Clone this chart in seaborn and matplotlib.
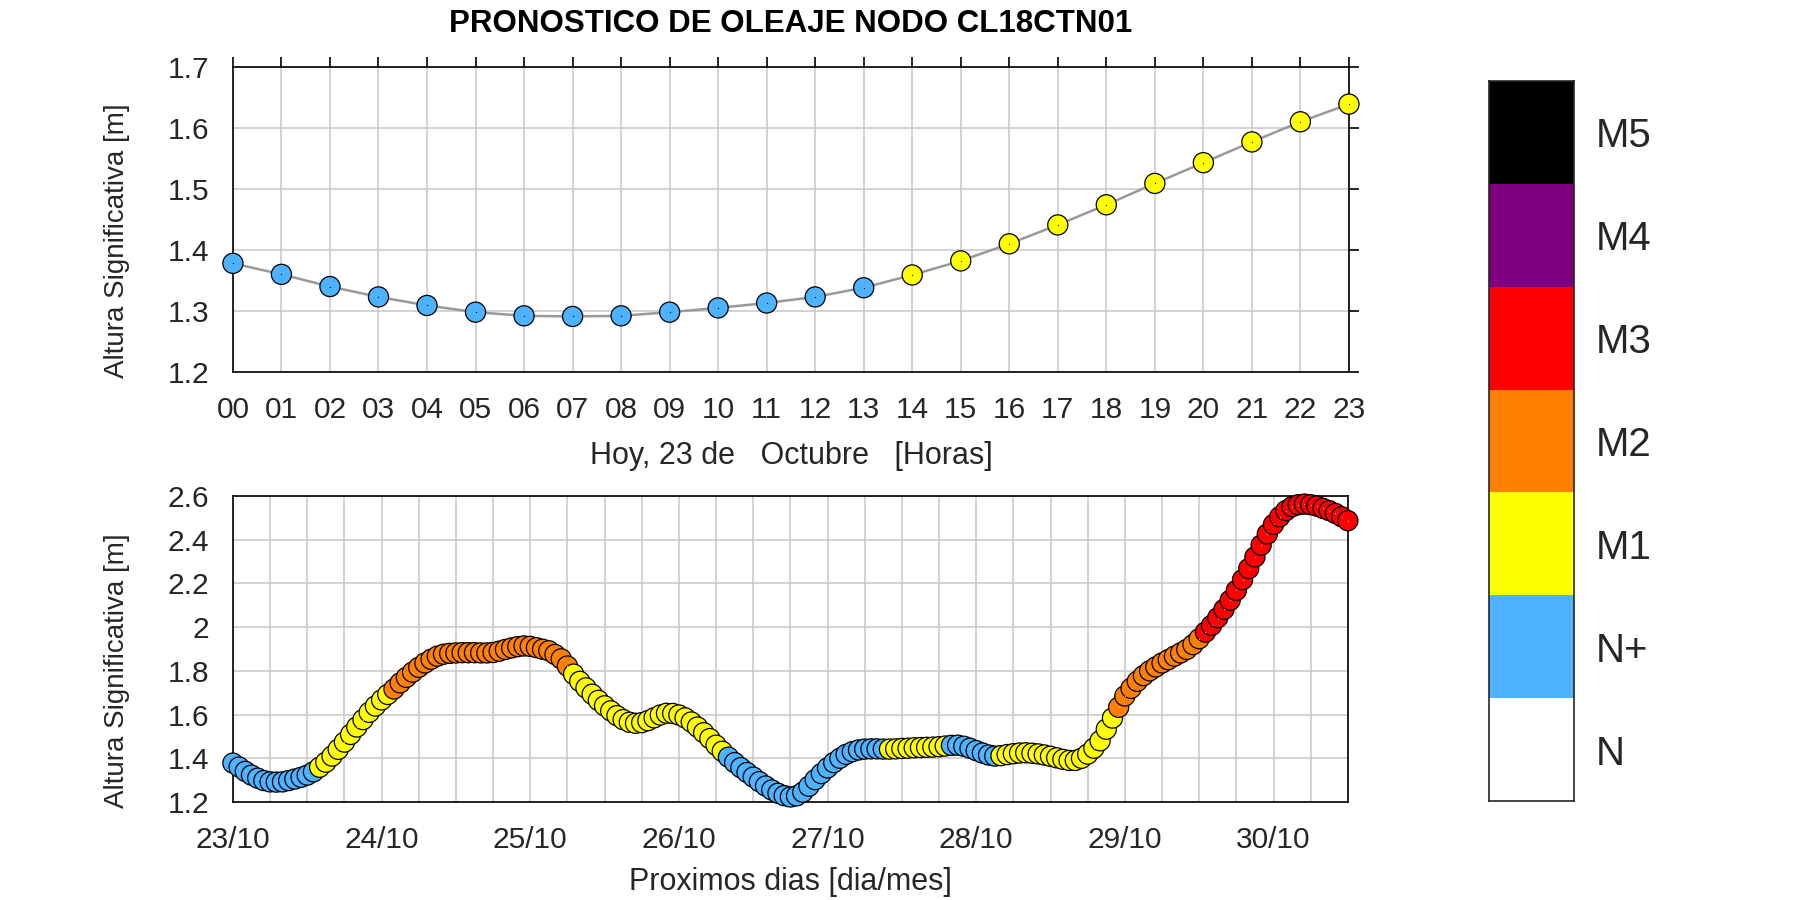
import numpy as np
import matplotlib
matplotlib.use("Agg")
import matplotlib.pyplot as plt
from matplotlib.colors import ListedColormap, BoundaryNorm
from matplotlib.ticker import FuncFormatter
import seaborn as sns

# --- datos del dia de hoy (horario) ---
horas_hoy = list(range(24))
altura_hoy = [1.378, 1.360, 1.340, 1.323, 1.309, 1.298, 1.292, 1.291, 1.292, 1.298,
              1.305, 1.313, 1.323, 1.338, 1.359, 1.382, 1.410, 1.441, 1.474, 1.509,
              1.543, 1.577, 1.610, 1.639]
nivel_hoy = ["N+"] * 14 + ["M1"] * 10

# --- proximos dias (horario, 0 = 23/10 00h) ---
horas_semana = list(range(181))
altura_semana = [
    1.378, 1.360, 1.340, 1.323, 1.309, 1.298, 1.292, 1.291, 1.292, 1.298, 1.305, 1.313,
    1.323, 1.338, 1.359, 1.382, 1.410, 1.441, 1.474, 1.509, 1.543, 1.577, 1.610, 1.639,
    1.667, 1.692, 1.717, 1.745, 1.770, 1.794, 1.816, 1.836, 1.853, 1.867, 1.876, 1.880,
    1.882, 1.883, 1.883, 1.883, 1.882, 1.882, 1.884, 1.890, 1.898, 1.905, 1.911, 1.914,
    1.912, 1.906, 1.899, 1.892, 1.875, 1.855, 1.822, 1.785, 1.752, 1.722, 1.693, 1.665,
    1.640, 1.617, 1.595, 1.577, 1.565, 1.560, 1.563, 1.572, 1.585, 1.598, 1.606, 1.605,
    1.598, 1.585, 1.566, 1.543, 1.517, 1.490, 1.460, 1.432, 1.405, 1.380, 1.357, 1.335,
    1.314, 1.293, 1.273, 1.255, 1.240, 1.229, 1.223, 1.228, 1.245, 1.272, 1.302, 1.330,
    1.356, 1.380, 1.400, 1.418, 1.430, 1.438, 1.442, 1.443, 1.443, 1.442, 1.442, 1.443,
    1.445, 1.446, 1.448, 1.449, 1.450, 1.451, 1.453, 1.456, 1.459, 1.460, 1.455, 1.446,
    1.435, 1.424, 1.415, 1.410, 1.412, 1.417, 1.421, 1.424, 1.425, 1.423, 1.420, 1.415,
    1.409, 1.402, 1.395, 1.390, 1.390, 1.400, 1.419, 1.446, 1.480, 1.533, 1.584, 1.633,
    1.685, 1.720, 1.752, 1.778, 1.800, 1.818, 1.836, 1.851, 1.867, 1.882, 1.898, 1.920,
    1.947, 1.977, 2.008, 2.043, 2.081, 2.123, 2.168, 2.217, 2.268, 2.321, 2.375, 2.426,
    2.470, 2.505, 2.533, 2.551, 2.560, 2.563, 2.560, 2.554, 2.543, 2.533, 2.520, 2.505,
    2.487]
# tramos (hora inicio, hora fin, nivel)
tramos_nivel = [(0, 13, "N+"), (14, 25, "M1"), (26, 54, "M2"), (55, 79, "M1"),
                (80, 105, "N+"), (106, 115, "M1"), (116, 123, "N+"), (124, 142, "M1"),
                (143, 156, "M2"), (157, 180, "M3")]
dias = ["23/10", "24/10", "25/10", "26/10", "27/10", "28/10", "29/10", "30/10"]

niveles = ["N", "N+", "M1", "M2", "M3", "M4", "M5"]
colores = ["#FFFFFF", "#4DB2FF", "#FFFF00", "#FF8000", "#FF0000", "#7F007F", "#000000"]

nivel_semana = []
for ini, fin, niv in tramos_nivel:
    nivel_semana += [niv] * (fin - ini + 1)

paleta = dict(zip(niveles, colores))
texto = "#262626"

sns.set_style("white")
plt.rcParams["font.family"] = ["Liberation Sans", "DejaVu Sans"]

fig = plt.figure(figsize=(18, 9), dpi=100)
ax1 = fig.add_axes([0.1294, 0.5867, 0.62, 0.339])
ax2 = fig.add_axes([0.1294, 0.1089, 0.6194, 0.34])
cax = fig.add_axes([0.8272, 0.11, 0.0472, 0.80])

"""
    Grafico superior: hoy por horas
"""
sns.lineplot(x=horas_hoy, y=altura_hoy, color="#999999", linewidth=1.8, ax=ax1, zorder=2)
sns.scatterplot(x=horas_hoy, y=altura_hoy, hue=nivel_hoy, palette=paleta, s=210,
                edgecolor="black", linewidth=0.9, legend=False, ax=ax1, zorder=3, clip_on=False)
sns.scatterplot(x=horas_hoy, y=altura_hoy, color="black", marker=".", s=3, linewidth=0,
                legend=False, ax=ax1, zorder=4, clip_on=False)
ax1.set_xlim(0, 23)
ax1.set_ylim(1.2, 1.7)
ax1.set_xticks(horas_hoy)
ax1.set_xticklabels([f"{h:02d}" for h in horas_hoy])
ax1.set_yticks([1.2, 1.3, 1.4, 1.5, 1.6, 1.7])
ax1.yaxis.set_major_formatter(FuncFormatter(lambda v, p: f"{v:g}"))
ax1.tick_params(direction="out", length=7, width=1.2, top=True, right=True,
                labelsize=21.5, pad=10, color="black", labelcolor=texto)
ax1.set_xlabel("Hoy, 23 de   Octubre   [Horas]", fontsize=22, color=texto)
ax1.set_ylabel("Altura Significativa [m]", fontsize=20, color=texto)
ax1.xaxis.set_label_coords(0.5, -0.225)
ax1.yaxis.set_label_coords(-0.092, 0.43)

"""
    Grafico inferior: proximos dias
"""
sns.scatterplot(x=horas_semana, y=altura_semana, hue=nivel_semana, palette=paleta, s=210,
                edgecolor="black", linewidth=0.9, legend=False, ax=ax2, zorder=3, clip_on=False)
sns.scatterplot(x=horas_semana, y=altura_semana, color="black", marker=".", s=2, linewidth=0,
                legend=False, ax=ax2, zorder=4, clip_on=False)
ax2.set_xlim(0, 180)
ax2.set_ylim(1.2, 2.6)
ticks_6h = list(range(0, 181, 6))
ax2.set_xticks(ticks_6h)
ax2.set_xticklabels([dias[h // 24] if h % 24 == 0 else "" for h in ticks_6h])
ax2.set_yticks([1.2, 1.4, 1.6, 1.8, 2.0, 2.2, 2.4, 2.6])
ax2.yaxis.set_major_formatter(FuncFormatter(lambda v, p: f"{v:g}"))
ax2.tick_params(direction="out", length=7, width=1.2, labelsize=21.5, pad=10,
                color="black", labelcolor=texto)
ax2.set_xlabel("Proximos dias [dia/mes]", fontsize=22, color=texto)
ax2.set_ylabel("Altura Significativa [m]", fontsize=20, color=texto)
ax2.xaxis.set_label_coords(0.5, -0.212)
ax2.yaxis.set_label_coords(-0.092, 0.43)

for ax in (ax1, ax2):
    ax.grid(True, color="#C8C8C8", linewidth=1.1)
    ax.set_axisbelow(True)
    for sp in ax.spines.values():
        sp.set_visible(True)
        sp.set_color("black")
        sp.set_linewidth(1.2)

"""
    Barra de colores de niveles (dibujada como malla de 7 celdas)
"""
cmap = ListedColormap(colores)
norm = BoundaryNorm(np.arange(len(niveles) + 1), cmap.N)
cax.pcolormesh([0, 1], np.arange(len(niveles) + 1),
               np.arange(len(niveles)).reshape(-1, 1), cmap=cmap, norm=norm)
cax.set_xlim(0, 1)
cax.set_ylim(0, len(niveles))
cax.set_xticks([])
cax.set_yticks(np.arange(len(niveles)) + 0.5)
cax.set_yticklabels(niveles)
cax.yaxis.tick_right()
cax.tick_params(which="both", length=0, labelsize=29, pad=16, labelcolor=texto)
cax.grid(False)
for sp in cax.spines.values():
    sp.set_visible(True)
    sp.set_color("#262626")
    sp.set_linewidth(1.2)

fig.text(0.4394, 0.9644, "PRONOSTICO DE OLEAJE NODO CL18CTN01", fontsize=22.5,
         fontweight="bold", ha="center", va="baseline", color="black")

plt.savefig("out.png", dpi=100)
plt.close()
